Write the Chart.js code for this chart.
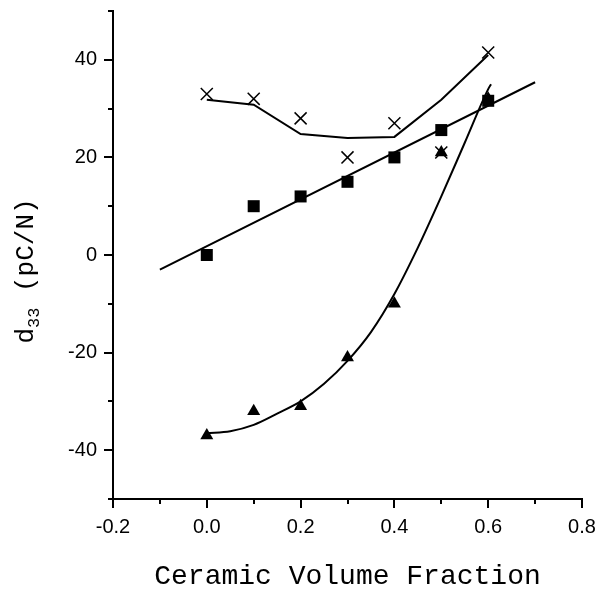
<!DOCTYPE html>
<html>
<head>
<meta charset="utf-8">
<script src="https://cdn.jsdelivr.net/npm/chart.js@4/dist/chart.umd.min.js"></script>
<style>
  html, body { margin: 0; padding: 0; background: #fff; }
  #wrap { width: 605px; height: 593px; }
</style>
</head>
<body>
<div id="wrap"><canvas id="d33-chart" width="605" height="593"></canvas></div>
<script>
// values
const fractions = [0, 0.1, 0.2, 0.3, 0.4, 0.5, 0.6];
const crossValues = [33, 32, 28, 20, 27, 21, 41.5];
const crossTrend = [31.8, 30.8, 24.8, 24, 24.2, 31.8, 41];
const squareValues = [0, 10, 12, 15, 20, 25.6, 31.6];
const triangleValues = [-37, -32, -31, -21, -10, 21, 32];

const squareFitX = [-0.1, 0.7];
const squareFitY = [-3, 35.4];

const triangleCurveX = [0, 0.05, 0.1, 0.15, 0.2, 0.25, 0.3, 0.35, 0.4, 0.45, 0.5, 0.55, 0.6, 0.606];
const triangleCurveY = [-36.5, -36.1, -34.8, -32.5, -30, -26.4, -21.7, -15.8, -8, 1.5, 12, 23, 34, 35];

const xTickRange = [-0.2, 0.8];
const yTickRange = [-50, 50];

function toPoints(xs, ys) {
    return xs.map((x, i) => ({ x: x, y: ys[i] }));
}

function isMajorX(v) {
    return Math.round(v * 10) % 2 === 0;
}

function isMajorY(v) {
    return Math.round(v) % 20 === 0;
}

// tick marks: long for labelled ticks, short for the in-between ones
const tickMarks = {
    id: 'tickMarks',
    afterDraw(chart) {
        const ctx = chart.ctx;
        const xs = chart.scales.x;
        const ys = chart.scales.y;
        ctx.save();
        ctx.strokeStyle = '#000';
        ctx.lineWidth = 2;
        xs.ticks.forEach((t, i) => {
            const px = Math.round(xs.getPixelForTick(i));
            const len = isMajorX(t.value) ? 9 : 5;
            ctx.beginPath();
            ctx.moveTo(px, xs.top);
            ctx.lineTo(px, xs.top + len);
            ctx.stroke();
        });
        ys.ticks.forEach((t, i) => {
            const py = Math.round(ys.getPixelForTick(i));
            const len = isMajorY(t.value) ? 9 : 5;
            ctx.beginPath();
            ctx.moveTo(ys.right, py);
            ctx.lineTo(ys.right - len, py);
            ctx.stroke();
        });
        ctx.restore();
    }
};

// y title with the subscript in d33
const yTitle = {
    id: 'yTitle',
    afterDraw(chart) {
        const ctx = chart.ctx;
        const ys = chart.scales.y;
        const mid = (ys.top + ys.bottom) / 2;
        const big = '26px "Liberation Mono", "Courier New", monospace';
        const small = '17px "Liberation Mono", "Courier New", monospace';
        ctx.save();
        ctx.fillStyle = '#000';
        ctx.textBaseline = 'alphabetic';
        ctx.textAlign = 'left';
        ctx.font = big;
        const wD = ctx.measureText('d').width;
        const wRest = ctx.measureText(' (pC/N)').width;
        ctx.font = small;
        const wSub = ctx.measureText('33').width;
        const total = wD + wSub + wRest;
        ctx.translate(33, mid + 16 + total / 2);
        ctx.rotate(-Math.PI / 2);
        ctx.font = big;
        ctx.fillText('d', 0, 0);
        ctx.font = small;
        ctx.fillText('33', wD, 6);
        ctx.font = big;
        ctx.fillText(' (pC/N)', wD + wSub, 0);
        ctx.restore();
    }
};

const pointBase = {
    type: 'scatter',
    showLine: false,
    borderColor: '#000',
    backgroundColor: '#000',
};

const lineBase = {
    type: 'scatter',
    showLine: true,
    pointRadius: 0,
    borderColor: '#000',
    borderWidth: 2,
    tension: 0,
};

new Chart(document.getElementById('d33-chart'), {
    type: 'scatter',
    data: {
        datasets: [
            {
                ...pointBase,
                label: 'cross',
                data: toPoints(fractions, crossValues),
                pointStyle: 'crossRot',
                pointRadius: 8.5,
                pointBorderWidth: 1.5,
            },
            {
                ...pointBase,
                label: 'square',
                data: toPoints(fractions, squareValues),
                pointStyle: 'rect',
                pointRadius: 8.5,
                pointBorderWidth: 0,
            },
            {
                ...pointBase,
                label: 'triangle',
                data: toPoints(fractions, triangleValues),
                pointStyle: 'triangle',
                pointRadius: 7.5,
                pointBorderWidth: 0,
            },
            {
                ...lineBase,
                label: 'cross trend',
                data: toPoints(fractions, crossTrend),
            },
            {
                ...lineBase,
                label: 'square fit',
                data: toPoints(squareFitX, squareFitY),
            },
            {
                ...lineBase,
                label: 'triangle fit',
                data: toPoints(triangleCurveX, triangleCurveY),
                tension: 0.4,
                cubicInterpolationMode: 'monotone',
            },
        ],
    },
    options: {
        responsive: false,
        animation: false,
        layout: { padding: { left: 0, right: 23, top: 11, bottom: 0 } },
        plugins: {
            legend: { display: false },
            tooltip: { enabled: false },
        },
        scales: {
            x: {
                type: 'linear',
                min: xTickRange[0],
                max: xTickRange[1],
                afterFit(scale) {
                    scale.height = 94;
                    scale.paddingLeft = 0;
                    scale.paddingRight = 0;
                },
                grid: { display: false, drawTicks: false, tickLength: 0 },
                border: { display: true, color: '#000', width: 2 },
                ticks: {
                    stepSize: 0.1,
                    padding: 16,
                    maxRotation: 0,
                    autoSkip: false,
                    color: '#000',
                    font: { family: '"Liberation Sans", Arial, sans-serif', size: 20 },
                    callback: (v) => isMajorX(v) ? (Math.round(v * 10) / 10).toFixed(1) : '',
                },
                title: {
                    display: true,
                    text: 'Ceramic Volume Fraction',
                    color: '#000',
                    font: { family: '"Liberation Mono", "Courier New", monospace', size: 28 },
                    padding: { top: 0, bottom: 0 },
                },
            },
            y: {
                type: 'linear',
                min: yTickRange[0],
                max: yTickRange[1],
                afterFit(scale) {
                    scale.width = 113;
                    scale.paddingTop = 0;
                    scale.paddingBottom = 0;
                },
                grid: { display: false, drawTicks: false, tickLength: 0 },
                border: { display: true, color: '#000', width: 2 },
                ticks: {
                    stepSize: 10,
                    padding: 16,
                    autoSkip: false,
                    color: '#000',
                    font: { family: '"Liberation Sans", Arial, sans-serif', size: 20 },
                    callback: (v) => isMajorY(v) ? String(Math.round(v)) : '',
                },
            },
        },
    },
    plugins: [tickMarks, yTitle],
});
</script>
</body>
</html>
